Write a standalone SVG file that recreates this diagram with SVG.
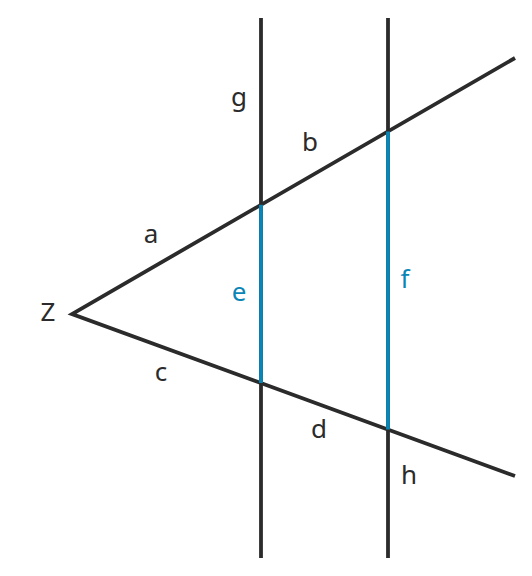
<svg xmlns="http://www.w3.org/2000/svg" width="532" height="576" viewBox="0 0 532 576">
<style>
.ln{stroke:#2b2b2b;stroke-width:3.8;fill:none}
.bl{stroke:#0a86b6;stroke-width:3.8;fill:none}
text{font-family:"Noto Sans",sans-serif;font-size:26px;fill:#2b2b2b;text-anchor:middle;dominant-baseline:central}
text.b{fill:#0a86b6}
</style>
<rect width="532" height="576" fill="#fff"/>
<g id="connectors">
<line class="ln" x1="261" y1="18" x2="261" y2="558"/>
<line class="ln" x1="388" y1="18" x2="388" y2="558"/>
<polyline class="ln" points="515,58 72,314 515,476" stroke-linejoin="miter"/>
<line class="bl" x1="261" y1="204.8" x2="261" y2="383"/>
<line class="bl" x1="388" y1="131.4" x2="388" y2="429.6"/>
</g>
<g id="Z"><text x="48" y="311">Z</text></g>
<g id="la"><text x="151" y="233">a</text></g>
<g id="lb"><text x="310" y="141">b</text></g>
<g id="lc"><text x="161" y="371">c</text></g>
<g id="ld"><text x="319" y="428">d</text></g>
<g id="le"><text class="b" x="239" y="291">e</text></g>
<g id="lf"><text class="b" x="405" y="278">f</text></g>
<g id="lg"><text x="239" y="96">g</text></g>
<g id="lh"><text x="409" y="474">h</text></g>
</svg>
